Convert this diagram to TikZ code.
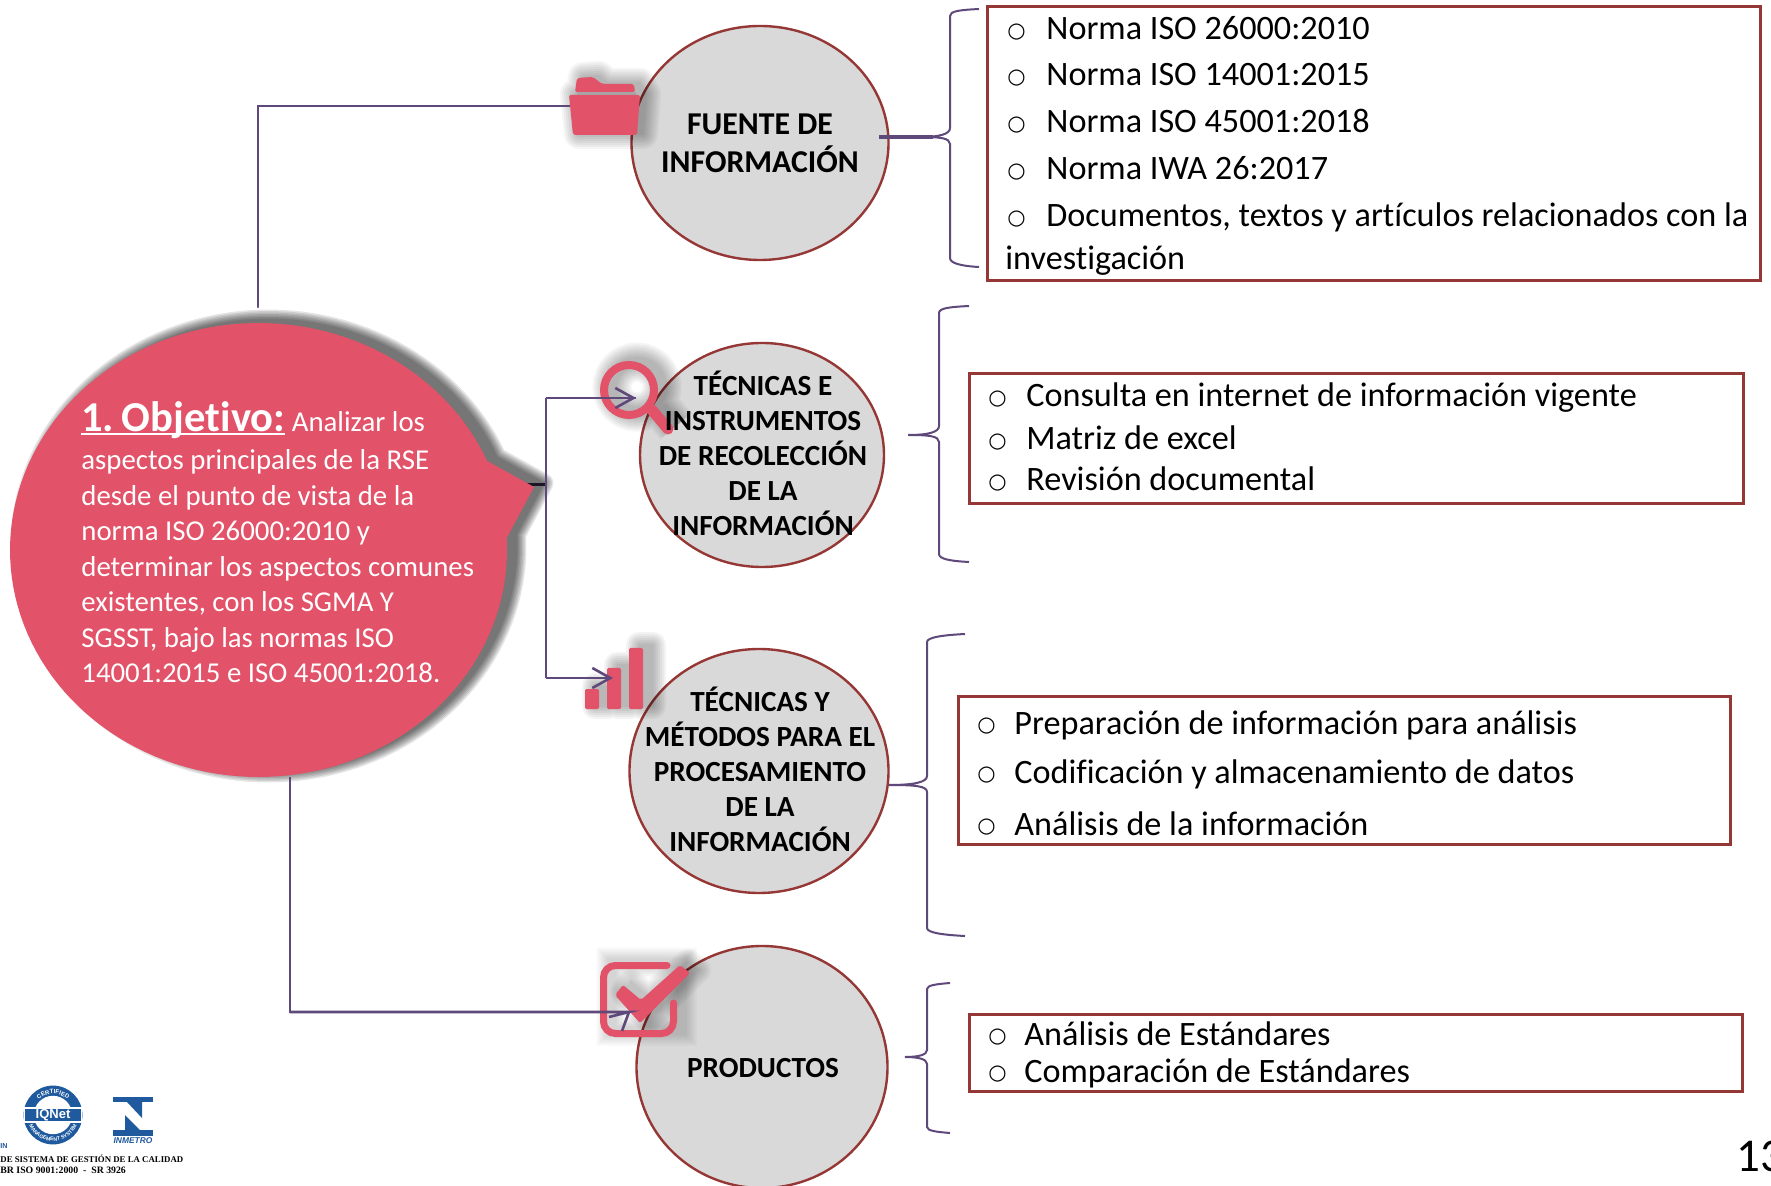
\documentclass[tikz,border=0pt]{standalone}
\usepackage{fontspec}
\setmainfont[Ligatures=NoCommon]{Carlito}
\newfontfamily\bulfont{DejaVu Sans}
\newfontfamily\logoserif{Liberation Serif}
\newfontfamily\logosans{Liberation Sans}
\usetikzlibrary{shapes.geometric,arrows.meta,decorations.text}
\definecolor{rosa}{HTML}{E25268}
\definecolor{morado}{HTML}{5F497A}
\definecolor{vino}{HTML}{953735}
\definecolor{gris}{HTML}{D9D9D9}
\definecolor{azul}{HTML}{1F5A9E}
\tikzset{
  circulo/.style={ellipse,draw=vino,fill=gris,line width=1.2pt,inner sep=0pt},
  circtext/.style={align=center,font=\fontsize{14.6}{17.5}\selectfont\bfseries,text=black,inner sep=0pt},
  caja/.style={rectangle,draw=vino,line width=1.4pt,fill=white,inner sep=0pt,anchor=north west},
  linea/.style={anchor=base west,inner sep=0pt,font=\fontsize{17.1}{19}\selectfont,text=black},
  conector/.style={draw=morado,line width=1.3pt,line join=miter},
  flecha/.style={conector,-{Straight Barb[length=9pt,width=10pt,line width=1.3pt]}},
  llave/.style={draw=morado,line width=1pt},
  icono/.style={fill=rosa,draw=none},
}
\newcommand\bul[1][19pt]{\makebox[#1][l]{\raisebox{1.1pt}{\bulfont\fontsize{10.5}{12}\selectfont ○}}}
% #1 widths, #2 offset, #3 layer opacity, #4 path
\newcommand\softshadow[4]{%
  \foreach \w in {#1}{%
    \begin{scope}[shift={#2},transparency group,opacity=#3]
      \path[fill=black,draw=black,line width=\w*0.5pt,line join=round] #4;
    \end{scope}}}
\begin{document}
\begin{tikzpicture}[x=0.5pt,y=-0.5pt]
\useasboundingbox (0,0) rectangle (1771,1186);
\clip (0,0) rectangle (1771,1186);
\fill[white] (0,0) rectangle (1771,1186);

% ---- circles
\node[circulo,minimum width=128.5pt,minimum height=117pt] (c1) at (760,143) {};
\node[circulo,minimum width=122pt,minimum height=112pt] (c2) at (762,455) {};
\node[circulo,minimum width=129.5pt,minimum height=122pt] (c3) at (759,771) {};
\node[circulo,minimum width=125.5pt,minimum height=121pt] (c4) at (762,1067) {};

% ---- named points
\coordinate (topEnd) at (258,307);
\coordinate (folderIn) at (570,106);
\coordinate (stubA) at (520,485);
\coordinate (trunk) at (546,485);
\coordinate (lensTip) at (636,398);
\coordinate (barsTip) at (613,678);
\coordinate (botEnd) at (290,777);
\coordinate (checkTip) at (629,1012);

% ---- bubble
\def\bubblepath{plot[domain=-3:336.9,samples=140] ({258.5+248.5*cos(\x)},{550+227*sin(\x)}) -- (534,487) -- cycle}
\draw[draw=morado!70!black,line width=1.5pt] (stubA) -- (trunk);
\softshadow{1,4,...,19}{(10,-4)}{.1}{\bubblepath}
\fill[rosa] \bubblepath;

% ---- icon shadows
\softshadow{2,6,...,30}{(6,-1)}{.04}{(575,92) -- (577,78) -- (593,77) -- (602,84) -- (634,84) -- (640,95) -- (637,135) -- (573,135) -- (569,95) -- cycle}
\foreach \w in {3,7,...,31}{\begin{scope}[shift={(8,-3)},transparency group,opacity=.04]
  \draw[black,line width=4pt+\w*0.5pt] (629,390) circle[radius=12.5pt];
  \draw[black,line width=5pt+\w*0.5pt] (652,410) -- (668,429);
\end{scope}}
\softshadow{2,6,...,26}{(10,-3)}{.045}{(585,689) rectangle (599,709) (607,668) rectangle (621,709) (629,648) rectangle (643,709)}
\foreach \w in {3,7,...,23}{\begin{scope}[shift={(8,-3)},transparency group,opacity=.028]
  \draw[black,line width=3.5pt+\w*0.5pt] (603.5,965.5) rectangle (673.5,1033.5);
\end{scope}}
\softshadow{2,6,...,26}{(8,-3)}{.035}{(623,985) -- (615,995) -- (640,1023) -- (690,973) -- (680,965) -- (641,1000) -- cycle}

% ---- connectors
\draw[conector,line cap=round] (topEnd) -- (topEnd |- folderIn) -- (folderIn);
\draw[conector] (lensTip -| trunk) -- (barsTip -| trunk);
\draw[conector] (lensTip -| trunk) -- (lensTip);
\draw[conector] (barsTip -| trunk) -- (barsTip);
\draw[conector] (botEnd) -- (botEnd |- checkTip) -- (checkTip);

% ---- folder icon
\fill[gray!70] (577,92) rectangle (636,98);
\fill[icono,rounded corners=1pt] (575,92) -- (577,78) -- (593,77) -- (602,84) -- (634,84) -- (635,92) -- cycle;
\fill[icono,rounded corners=1pt] (569,95) -- (640,95) -- (637,135) -- (573,135) -- cycle;
% ---- magnifier
\draw[rosa,line width=4pt] (629,390) circle[radius=12.5pt];
\draw[rosa,line width=5.5pt,line cap=round] (652,410) -- (668,429);
\draw[flecha] (trunk |- lensTip) -- (lensTip);
% ---- bars
\fill[icono,rounded corners=.7pt] (585,689) rectangle (599,709);
\fill[icono,rounded corners=.7pt] (607,668) rectangle (621,709);
\fill[icono,rounded corners=.7pt] (629,648) rectangle (643,709);
\draw[flecha] (trunk |- barsTip) -- (barsTip);
% ---- check icon
\draw[rosa,line width=3.5pt,rounded corners=6pt,line cap=round] (667,965.5) -- (603.5,965.5) -- (603.5,1033.5) -- (673.5,1033.5) -- (673.5,1003);
\fill[icono,rounded corners=1pt] (623,985) -- (615,995) -- (640,1023) -- (690,973) -- (680,965) -- (641,1000) -- cycle;
\draw[conector] (botEnd |- checkTip) -- (checkTip) -- ++(-20,5) (checkTip) -- ++(-7,19);

% ---- circle texts
\node[circtext,font=\fontsize{15.9}{19}\selectfont\bfseries] (t1) at (760,143) {FUENTE DE\\INFORMACIÓN};
\node[circtext] (t2) at (763,453) {TÉCNICAS E\\INSTRUMENTOS\\DE RECOLECCIÓN\\DE LA\\INFORMACIÓN};
\node[circtext] (t3) at (760,769) {TÉCNICAS Y\\MÉTODOS PARA EL\\PROCESAMIENTO\\DE LA\\INFORMACIÓN};
\node[circtext] (t4) at (763,1068) {PRODUCTOS};

% ---- bubble text
\node[anchor=north west,inner sep=0pt,align=left,text=white,font=\fontsize{14.4}{17.75}\selectfont] (obj) at (81,401)
 {{\fontsize{21.3}{17.75}\selectfont\bfseries\sbox0{1.\hspace{.18em}Objetivo:}\usebox0\llap{\rule[-2pt]{\wd0}{1.2pt}}} Analizar los\\[1.5pt]
  aspectos principales de la RSE\\
  desde el punto de vista de la\\
  norma ISO 26000:2010 y\\
  determinar los aspectos comunes\\
  existentes, con los SGMA Y\\
  SGSST, bajo las normas ISO\\
  14001:2015 e ISO 45001:2018.};

% ---- boxes
\node[caja,minimum width=386.5pt,minimum height=137pt] (b1) at (986,5) {};
\node[caja,minimum width=387pt,minimum height=65pt] (b2) at (968,372) {};
\node[caja,minimum width=386pt,minimum height=74pt] (b3) at (957,695) {};
\node[caja,minimum width=386.5pt,minimum height=38.5pt] (b4) at (968,1013) {};

% ---- box lines
\node[linea] (l11) at (1007,40) {\bul[19.5pt]Norma ISO 26000:2010};
\node[linea] (l12) at (1007,86) {\bul[19.5pt]Norma ISO 14001:2015};
\node[linea] (l13) at (1007,133) {\bul[19.5pt]Norma ISO 45001:2018};
\node[linea] (l14) at (1007,180) {\bul[19.5pt]Norma IWA 26:2017};
\node[linea] (l15) at (1007,227) {\bul[19.5pt]Documentos, textos y artículos relacionados con la};
\node[linea] (l16) at (1005,270) {investigación};
\node[linea] (l21) at (988,407) {\bul[19pt]Consulta en internet de información vigente};
\node[linea] (l22) at (988,450) {\bul[19pt]Matriz de excel};
\node[linea] (l23) at (988,491) {\bul[19pt]Revisión documental};
\node[linea] (l31) at (977,734) {\bul[18.5pt]Preparación de información para análisis};
\node[linea] (l32) at (977,783) {\bul[18.5pt]Codificación y almacenamiento de datos};
\node[linea] (l33) at (977,835) {\bul[18.5pt]Análisis de la información};
\node[linea] (l41) at (988,1045) {\bul[18pt]Análisis de Estándares};
\node[linea] (l42) at (988,1082) {\bul[18pt]Comparación de Estándares};

% ---- braces
\draw[llave] (979,9) .. controls (960,10) and (950,11) .. (950,16) -- (950,128) .. controls (950,134) and (940,137) .. (920,137) .. controls (940,137) and (950,138) .. (950,144) -- (950,258) .. controls (950,263) and (960,266) .. (979,267);
\draw[conector,line width=1.8pt] (879,137) -- (933,137);
\draw[llave] (969,306) .. controls (950,307) and (939,308) .. (939,313) -- (939,426) .. controls (939,432) and (929,435) .. (908,435) .. controls (929,435) and (939,436) .. (939,442) -- (939,554) .. controls (939,559) and (950,561) .. (969,562);
\draw[llave] (965,634) .. controls (945,635) and (927,637) .. (927,642) -- (927,776) .. controls (927,782) and (915,785) .. (889,785) .. controls (915,785) and (927,786) .. (927,792) -- (927,928) .. controls (927,933) and (945,935) .. (965,936);
\draw[llave] (950,983) .. controls (938,984) and (927,985) .. (927,989) -- (927,1050) .. controls (927,1055) and (918,1057) .. (905,1057) .. controls (918,1057) and (927,1059) .. (927,1064) -- (927,1127) .. controls (927,1131) and (938,1132) .. (950,1133);

% ---- page number
\node[anchor=base west,inner sep=0pt,font=\fontsize{23.5}{26}\selectfont,text=black] (pag) at (1736,1171) {13};

% ---- logos
\begin{scope}[shift={(53,1115)},x=1pt,y=1pt]
  \fill[azul] (0,0) circle[radius=14.7];
  \fill[white] (0,0) circle[radius=9.6];
  \fill[white] (-14.7,-3.8) rectangle (14.7,3.8);
  \fill[azul] (-14,-3.1) rectangle (14,3.1);
  \node[inner sep=0pt,text=white,font=\logosans\bfseries\fontsize{6.5}{7}\selectfont] (iqnet) at (0,0) {IQNet};
  \path[decorate,decoration={text along path,text align=center,text={|\logosans\fontsize{3}{3}\selectfont\bfseries\color{white}|CERTIFIED}}] (-10.6,0) arc[start angle=180,end angle=0,radius=10.6];
  \path[decorate,decoration={text along path,text align=center,text={|\logosans\fontsize{2.6}{3}\selectfont\bfseries\color{white}|MANAGEMENT SYSTEM}}] (-13,0) arc[start angle=180,end angle=360,radius=13];
\end{scope}
\fill[azul] (113,1097) rectangle (153,1102);
\fill[azul] (127,1102) -- (142,1102) -- (142,1118) -- cycle;
\fill[azul] (125,1115) -- (125,1130) -- (140,1130) -- cycle;
\fill[azul] (113,1130) rectangle (153,1136);
\node[anchor=base,inner sep=0pt,text=azul,font=\logosans\bfseries\itshape\fontsize{4.2}{5}\selectfont] (inm) at (133,1143) {INMETRO};
\node[anchor=base west,inner sep=0pt,text=azul,font=\logosans\bfseries\fontsize{3.6}{4}\selectfont] (lin) at (0,1148) {IN};
\node[anchor=base west,inner sep=0pt,text=black,font=\logoserif\bfseries\fontsize{4.4}{5}\selectfont] (la) at (0,1162) {DE SISTEMA DE GESTIÓN DE LA CALIDAD};
\node[anchor=base west,inner sep=0pt,text=black,font=\logoserif\bfseries\fontsize{4.9}{5}\selectfont] (lb) at (0,1173) {BR ISO 9001:2000\ \ -\ \ SR 3926};
\end{tikzpicture}
\end{document}
